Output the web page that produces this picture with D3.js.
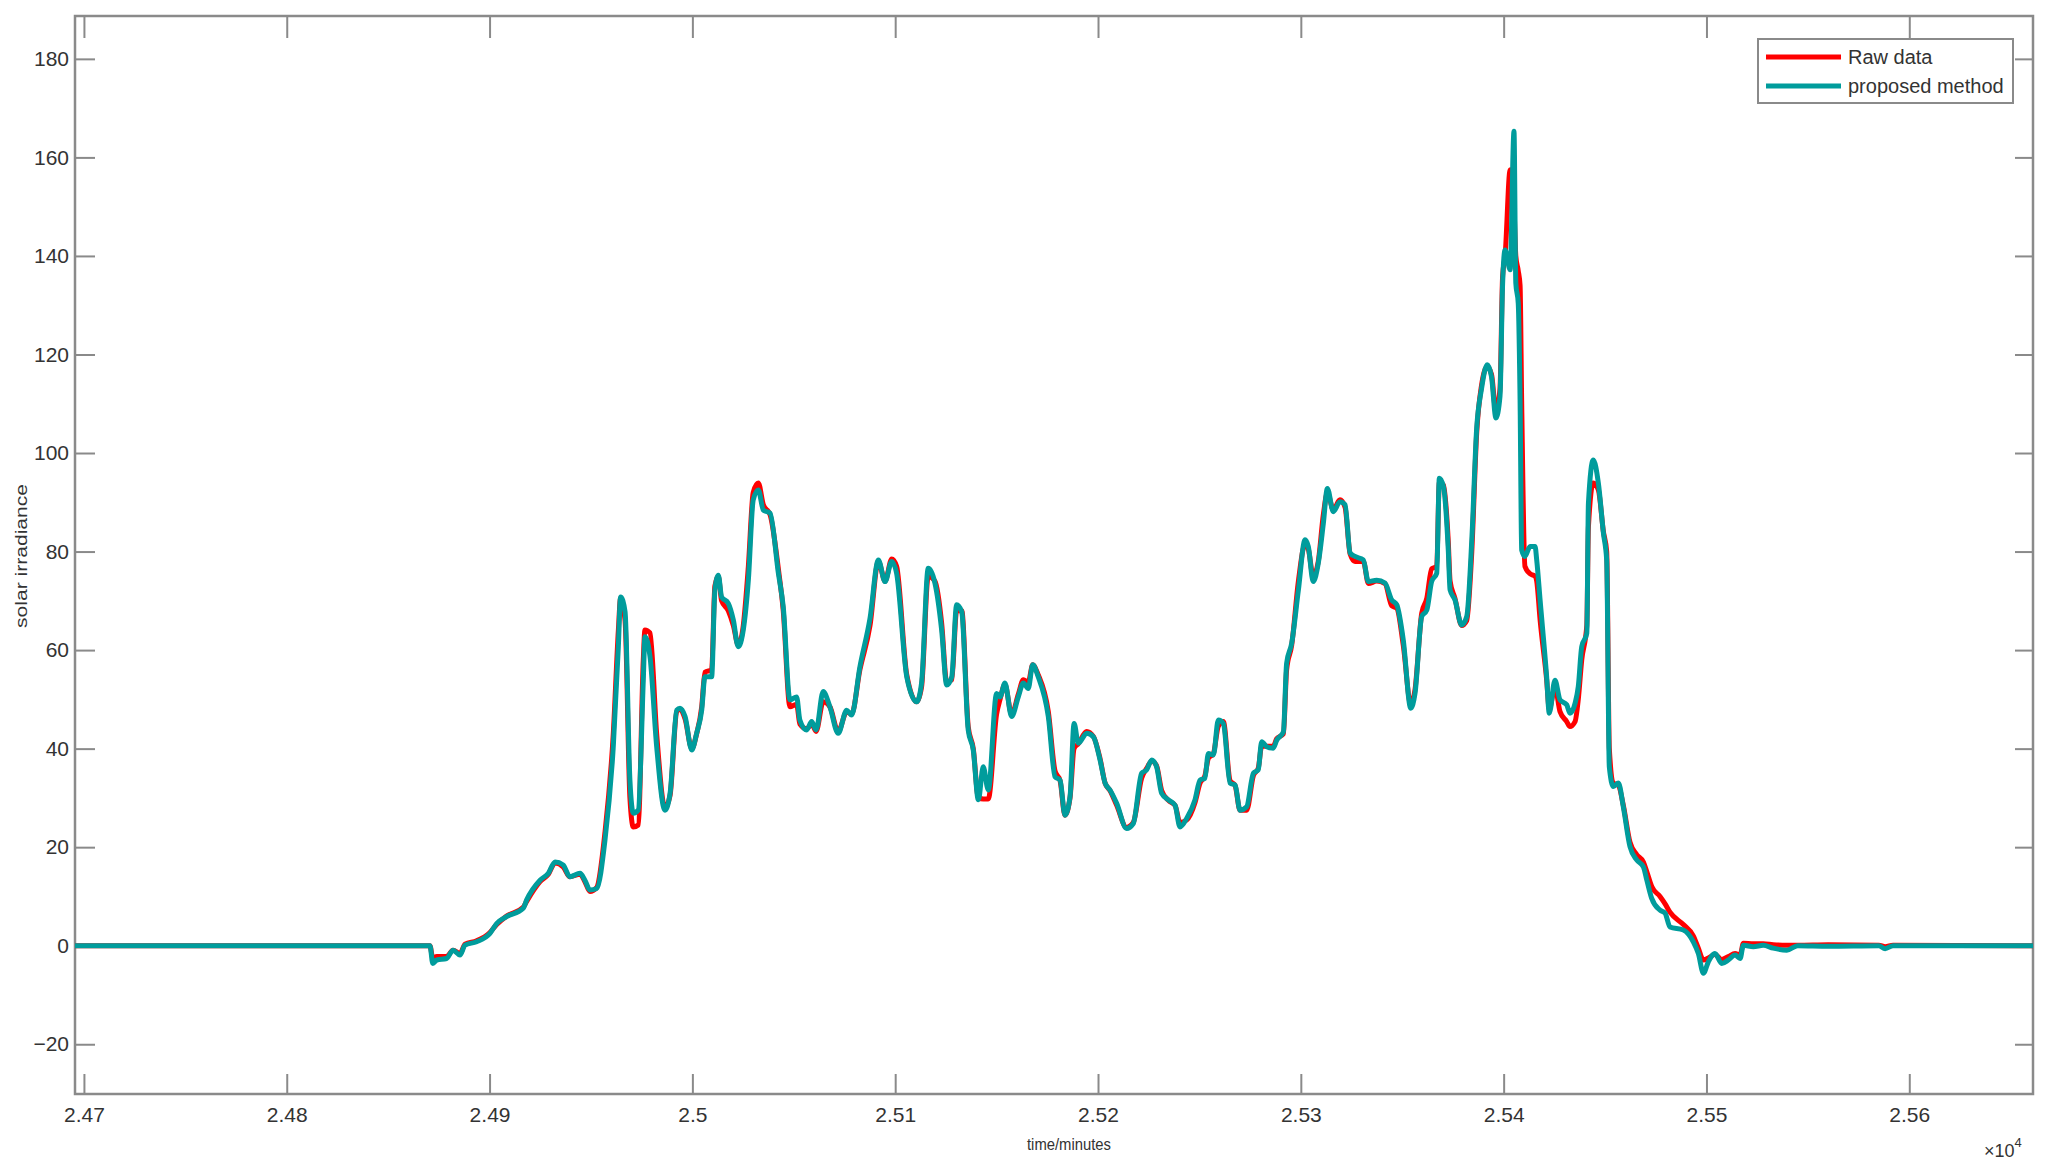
<!DOCTYPE html>
<html>
<head>
<meta charset="utf-8">
<script src="https://cdn.jsdelivr.net/npm/d3@7"></script>
<style>
  body { margin: 0; background: #fff; }
  text { font-family: "Liberation Sans", Arial, sans-serif; fill: #333; }
</style>
</head>
<body>
<script>
const width = 2050;
const height = 1170;

// plot box (MATLAB style axes with ticks on all four sides)
const plotLeft = 75, plotRight = 2033, plotTop = 16, plotBottom = 1094;

// time in minutes
const minutes = [
  24695.6, 24870.6, 24872, 24874, 24878.8, 24882, 24885.4, 24887.9, 24893.6, 24900.2,
  24903.5, 24908.4, 24916.6, 24918.3, 24924.9, 24929, 24932.3, 24936.3, 24939.6, 24944.6,
  24947, 24949.5, 24952.8, 24956.9, 24961, 24963.5, 24964.6, 24966.8, 24969.2, 24970.9,
  24973.3, 24975.8, 24976.6, 24979.1, 24982.4, 24986.5, 24989, 24992.3, 24993.9, 24996.4,
  24999.7, 25002.1, 25004.6, 25006.2, 25009.5, 25011.1, 25012.8, 25014.4, 25017.7, 25020.2,
  25022.6, 25025.1, 25027.6, 25030, 25032.5, 25035, 25038.3, 25042.4, 25044.8, 25048.1,
  25051.4, 25053, 25056.4, 25058.8, 25061, 25064.5, 25067.8, 25071.9, 25076.1, 25078.5,
  25082.6, 25087.6, 25091.7, 25095, 25098.3, 25100.7, 25105.7, 25110.6, 25113, 25116.3,
  25119.6, 25122.9, 25125.4, 25127.9, 25130.3, 25132.8, 25136, 25138.5, 25141, 25143.4,
  25145.9, 25150, 25151.7, 25154.1, 25157.4, 25160.7, 25163.2, 25165.6, 25167.8, 25170.5,
  25175.5, 25178.8, 25181.3, 25183.7, 25186.2, 25188.2, 25190.3, 25194.4, 25197.7, 25201,
  25203.5, 25205.9, 25209.2, 25214.1, 25217.4, 25221.5, 25224, 25226.5, 25228.9, 25231.4,
  25234.7, 25238, 25240.4, 25243.7, 25247.8, 25250.3, 25252.7, 25254.4, 25256.9, 25259.3,
  25261.8, 25265.1, 25267.6, 25270, 25273.3, 25276.6, 25279, 25280.7, 25283.2, 25286.4,
  25288.1, 25291.4, 25293, 25295.5, 25298.8, 25302.1, 25303.7, 25306.1, 25308.6, 25311.1,
  25313.1, 25316, 25319.3, 25321.8, 25324.3, 25326.7, 25330.8, 25333.3, 25337.4, 25341.5,
  25344.8, 25347.3, 25350.5, 25354.2, 25356.3, 25359.6, 25362.1, 25364.5, 25367, 25368.3,
  25370.3, 25372.7, 25373.6, 25376, 25379.3, 25381.8, 25384.3, 25386.7, 25389, 25391.9,
  25394, 25396.2, 25398.2, 25399.5, 25400.7, 25403.2, 25405.1, 25406, 25407.2, 25408.1,
  25408.9, 25410.5, 25413, 25415.5, 25416.3, 25418, 25421.2, 25422.5, 25425.3, 25427.8,
  25431.1, 25432.7, 25435.2, 25436.8, 25438.5, 25441, 25441.8, 25444.2, 25446.7, 25449.2,
  25450.8, 25452.1, 25454.1, 25456.6, 25459, 25462.3, 25465.6, 25468.9, 25470.6, 25473,
  25477.1, 25479.6, 25482, 25488.6, 25493.5, 25496, 25498.5, 25500.9, 25504.2, 25507.5,
  25510.8, 25514.1, 25516.6, 25518.2, 25523.1, 25528, 25532.9, 25539.6, 25545, 25560,
  25585, 25588.1, 25592, 25661
];

// red curve
const rawData = [
  0, 0, -2.5, -2.2, -2.2, -0.9, -1.6, 0.3, 1.0, 2.7,
  4.3, 6.0, 7.8, 9.0, 13.0, 14.5, 16.8, 16.0, 14.0, 14.5,
  13.0, 11.0, 11.8, 23.0, 43.0, 64.0, 70.5, 66.0, 30.0, 24.1,
  24.5, 58.0, 64.1, 63.5, 43.0, 28.0, 30.5, 47.5, 48.0, 46.0,
  40.0, 43.0, 48.5, 55.5, 56.0, 73.0, 75.0, 70.0, 68.0, 65.0,
  61.0, 65.0, 77.0, 92.0, 93.9, 89.5, 87.5, 76.5, 68.0, 48.5,
  49.0, 45.0, 44.0, 45.0, 43.5, 49.5, 48.5, 43.5, 47.5, 47.0,
  56.0, 65.0, 78.0, 74.0, 78.5, 77.0, 55.0, 49.5, 52.5, 75.0,
  74.0, 65.5, 53.5, 54.0, 68.0, 68.0, 44.5, 40.0, 30.0, 29.8,
  29.8, 47.0, 50.0, 53.0, 47.0, 51.0, 54.0, 53.5, 57.0, 55.0,
  47.5, 35.5, 33.5, 26.5, 30.0, 40.0, 41.0, 43.5, 42.5, 38.0,
  33.0, 31.5, 28.5, 24.0, 25.0, 34.0, 36.0, 37.5, 36.5, 31.5,
  29.5, 28.5, 25.0, 25.5, 29.0, 33.0, 34.5, 38.0, 39.0, 44.5,
  45.5, 33.5, 32.5, 27.5, 27.5, 34.5, 36.0, 40.5, 40.5, 40.5,
  42.0, 43.0, 56.0, 61.0, 74.0, 81.5, 80.5, 75.0, 78.0, 87.5,
  92.0, 88.5, 90.5, 89.0, 79.5, 78.0, 78.0, 73.5, 74.0, 73.5,
  69.0, 68.5, 61.0, 49.0, 52.0, 67.5, 70.5, 76.5, 77.0, 94.0,
  93.5, 82.0, 74.0, 70.5, 65.0, 66.0, 80.0, 104.0, 113.5, 117.5,
  116.0, 108.5, 113.0, 136.0, 140.0, 157.5, 150.0, 140.0, 137.0, 134.0,
  110.0, 77.0, 75.5, 75.0, 74.0, 66.0, 54.0, 48.0, 52.5, 47.5,
  45.5, 44.5, 45.5, 50.0, 58.0, 65.0, 85.0, 93.9, 92.5, 84.0,
  80.0, 40.0, 33.0, 32.5, 28.5, 21.0, 18.5, 17.0, 15.0, 12.0,
  10.0, 8.5, 6.8, 4.3, 2.0, -0.5, -2.9, -2.5, -1.8, -2.8,
  -2.2, -1.6, -1.9, 0.5, 0.4, 0.4, 0.2, 0.1, 0.1, 0.2,
  0.1, -0.2, 0.1, 0
];

// teal curve
const proposedMethod = [
  0, 0, -3.6, -2.9, -2.6, -0.9, -1.9, 0.1, 0.8, 2.5,
  4.5, 5.9, 7.6, 9.3, 13.3, 14.7, 17.0, 16.4, 14.0, 14.7,
  13.3, 11.3, 11.6, 21.4, 40.4, 60.7, 70.8, 67.8, 33.6, 26.9,
  27.5, 53.9, 62.7, 58.7, 40.4, 27.5, 30.9, 47.8, 48.2, 46.5,
  39.7, 43.1, 47.8, 54.6, 54.6, 72.2, 75.2, 70.8, 69.5, 66.1,
  60.7, 64.1, 74.2, 90.5, 92.5, 88.4, 87.8, 75.6, 68.8, 49.9,
  50.5, 45.8, 43.8, 45.5, 43.8, 51.6, 48.5, 43.1, 47.8, 46.8,
  56.6, 66.5, 78.3, 73.9, 78.0, 75.6, 54.6, 49.5, 53.3, 76.6,
  73.6, 64.1, 52.9, 54.6, 69.2, 67.8, 43.8, 39.7, 29.6, 36.3,
  31.6, 51.2, 50.5, 53.3, 46.5, 50.5, 53.3, 52.2, 57.0, 54.6,
  46.5, 34.3, 33.6, 26.5, 30.2, 45.1, 41.1, 43.1, 42.4, 37.7,
  33.0, 31.6, 28.9, 23.8, 24.8, 35.0, 35.7, 37.7, 36.3, 30.9,
  29.6, 28.5, 24.1, 25.8, 29.6, 33.6, 34.0, 39.0, 38.7, 45.8,
  45.1, 33.0, 32.6, 27.5, 28.2, 35.0, 35.7, 41.4, 40.4, 40.1,
  41.7, 43.4, 57.3, 61.4, 72.2, 82.4, 81.0, 73.9, 77.6, 85.7,
  92.8, 88.1, 90.1, 89.5, 79.7, 79.0, 78.3, 73.9, 74.2, 73.6,
  70.2, 69.2, 62.1, 48.2, 51.2, 66.8, 68.1, 73.9, 75.6, 94.9,
  93.2, 80.3, 72.2, 70.2, 65.1, 66.8, 82.4, 105.0, 112.8, 117.9,
  115.5, 107.1, 111.5, 134.5, 141.2, 137.2, 165.3, 134.5, 130.4, 110.8,
  80.3, 79.0, 81.0, 81.0, 78.3, 70.0, 54.6, 47.2, 53.9, 49.9,
  48.9, 47.2, 49.2, 52.6, 60.7, 63.4, 89.8, 98.6, 93.9, 83.7,
  78.3, 36.3, 32.3, 33.0, 28.2, 20.1, 17.4, 16.0, 13.3, 9.6,
  7.2, 6.6, 3.8, 3.2, 0.8, -1.6, -5.6, -3.3, -1.6, -3.6,
  -2.9, -1.9, -2.6, 0.1, -0.2, 0.1, -0.5, -0.9, 0, -0.1,
  0, -0.6, 0, 0
];

const xTicks = [24700, 24800, 24900, 25000, 25100, 25200, 25300, 25400, 25500, 25600];
const xTickLabels = ['2.47', '2.48', '2.49', '2.5', '2.51', '2.52', '2.53', '2.54', '2.55', '2.56'];
const yTicks = [-20, 0, 20, 40, 60, 80, 100, 120, 140, 160, 180];

const seriesNames = ['Raw data', 'proposed method'];
const seriesColors = ['#ff0000', '#009c9c'];

const svg = d3.select('body')
              .append('svg')
              .attr('width', width)
              .attr('height', height);

const x = d3.scaleLinear()
            .domain([24695.6, 25661])
            .range([plotLeft, plotRight]);

const y = d3.scaleLinear()
            .domain([-30.1, 188.7])
            .range([plotBottom, plotTop]);

const axisColor = '#8a8a8a';

// clip lines to the plot box
svg.append('clipPath')
   .attr('id', 'plotClip')
   .append('rect')
   .attr('x', plotLeft)
   .attr('y', plotTop)
   .attr('width', plotRight - plotLeft)
   .attr('height', plotBottom - plotTop);

// axes
const fmt = d => xTickLabels[xTicks.indexOf(d)];

svg.append('g')
  .attr('transform', `translate(0,${plotBottom})`)
  .call(d3.axisBottom(x).tickValues(xTicks).tickSize(-20).tickPadding(13).tickFormat(fmt));

svg.append('g')
  .attr('transform', `translate(0,${plotTop})`)
  .call(d3.axisTop(x).tickValues(xTicks).tickSize(-22).tickFormat(''));

svg.append('g')
  .attr('transform', `translate(${plotLeft},0)`)
  .call(d3.axisLeft(y).tickValues(yTicks).tickSize(-20).tickPadding(6).tickFormat(d3.format('d')));

svg.append('g')
  .attr('transform', `translate(${plotRight},0)`)
  .call(d3.axisRight(y).tickValues(yTicks).tickSize(-18).tickFormat(''));

svg.selectAll('.domain').remove();
svg.selectAll('.tick line')
   .attr('stroke', axisColor)
   .attr('stroke-width', 2);
svg.selectAll('.tick text')
   .attr('font-size', 21)
   .attr('fill', '#3a3a3a')
   .style('font-family', '"Liberation Sans", Arial, sans-serif');

// axes box
svg.append('rect')
   .attr('x', plotLeft)
   .attr('y', plotTop)
   .attr('width', plotRight - plotLeft)
   .attr('height', plotBottom - plotTop)
   .attr('fill', 'none')
   .attr('stroke', axisColor)
   .attr('stroke-width', 2.5);

// series: raw data underneath, proposed method on top
const rows = minutes.map((t, i) => ({ t: t, raw: rawData[i], prop: proposedMethod[i] }));

const lineRaw = d3.line().curve(d3.curveMonotoneX).x(d => x(d.t)).y(d => y(d.raw));
const lineProp = d3.line().curve(d3.curveMonotoneX).x(d => x(d.t)).y(d => y(d.prop));

const lines = svg.append('g').attr('clip-path', 'url(#plotClip)');

lines.append('path')
     .datum(rows)
     .attr('d', lineRaw)
     .attr('fill', 'none')
     .attr('stroke', seriesColors[0])
     .attr('stroke-width', 5)
     .attr('stroke-linejoin', 'round')
     .attr('stroke-linecap', 'round');

lines.append('path')
     .datum(rows)
     .attr('d', lineProp)
     .attr('fill', 'none')
     .attr('stroke', seriesColors[1])
     .attr('stroke-width', 5)
     .attr('stroke-linejoin', 'round')
     .attr('stroke-linecap', 'round');

// axis labels
svg.append('text')
   .attr('transform', 'translate(27,556) rotate(-90)')
   .attr('text-anchor', 'middle')
   .attr('font-size', 17)
   .attr('textLength', 144)
   .attr('lengthAdjust', 'spacingAndGlyphs')
   .text('solar irradiance');

svg.append('text')
   .attr('x', 1069)
   .attr('y', 1150)
   .attr('text-anchor', 'middle')
   .attr('font-size', 17)
   .attr('textLength', 84)
   .attr('lengthAdjust', 'spacingAndGlyphs')
   .text('time/minutes');

const expo = svg.append('text')
   .attr('x', 1984)
   .attr('y', 1157)
   .attr('font-size', 18);
expo.append('tspan').text('\u00d710');
expo.append('tspan').attr('dy', -10).attr('font-size', 13).text('4');

// legend
const legend = svg.append('g');
legend.append('rect')
      .attr('x', 1758)
      .attr('y', 39)
      .attr('width', 255)
      .attr('height', 64)
      .attr('fill', '#fff')
      .attr('stroke', axisColor)
      .attr('stroke-width', 2);

seriesNames.forEach((name, i) => {
  const ly = 57 + i * 29;
  legend.append('line')
        .attr('x1', 1766).attr('x2', 1841)
        .attr('y1', ly).attr('y2', ly)
        .attr('stroke', seriesColors[i])
        .attr('stroke-width', 5);
  legend.append('text')
        .attr('x', 1848)
        .attr('y', ly + 7)
        .attr('font-size', 20)
        .attr('fill', '#222')
        .text(name);
});
</script>
</body>
</html>
